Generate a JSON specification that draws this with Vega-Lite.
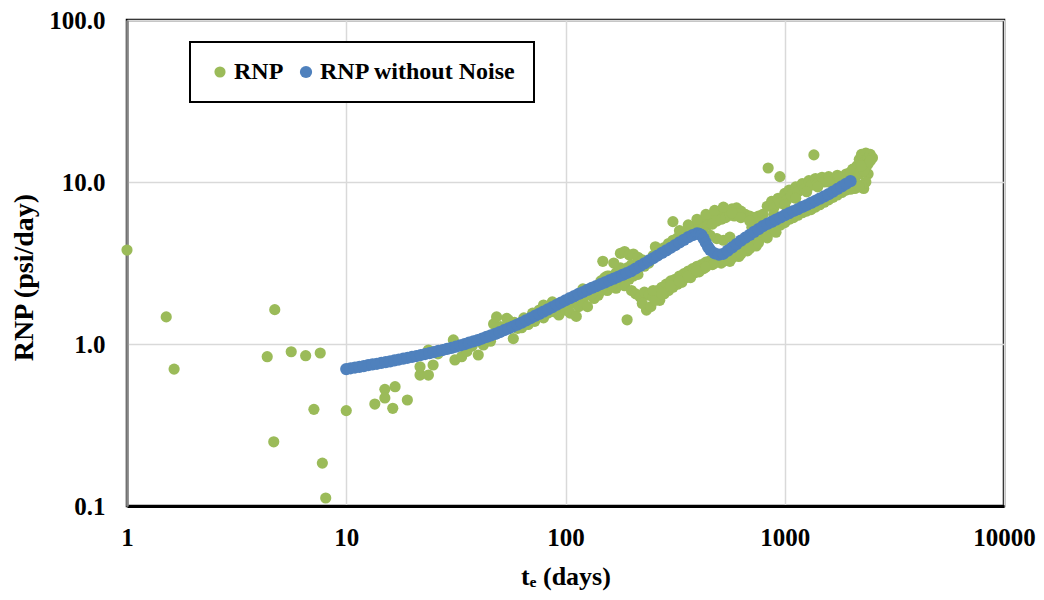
{
  "$schema": "https://vega.github.io/schema/vega-lite/v6.json",
  "width": 877,
  "height": 486,
  "autosize": {"type": "none"},
  "padding": {"left": 127, "top": 20, "right": 40, "bottom": 94},
  "background": "white",
  "config": {
    "view": {"stroke": "#000000", "strokeWidth": 2.5},
    "font": "Liberation Serif"
  },
  "datasets": {
    "rnp": [
      {"t":1.0,"rnp":3.80,"series":"RNP"},{"t":1.51,"rnp":1.47,"series":"RNP"},{"t":1.64,"rnp":0.70,"series":"RNP"},
      {"t":4.36,"rnp":0.835,"series":"RNP"},{"t":4.67,"rnp":0.249,"series":"RNP"},{"t":4.72,"rnp":1.63,"series":"RNP"},
      {"t":5.61,"rnp":0.896,"series":"RNP"},{"t":6.53,"rnp":0.847,"series":"RNP"},{"t":7.12,"rnp":0.395,"series":"RNP"},
      {"t":7.61,"rnp":0.88,"series":"RNP"},{"t":7.78,"rnp":0.184,"series":"RNP"},{"t":8.06,"rnp":0.112,"series":"RNP"},
      {"t":10.0,"rnp":0.388,"series":"RNP"},
      {"t":13.5,"rnp":0.426,"series":"RNP"},{"t":15.0,"rnp":0.525,"series":"RNP"},{"t":16.7,"rnp":0.545,"series":"RNP"},
      {"t":15.0,"rnp":0.464,"series":"RNP"},{"t":16.3,"rnp":0.401,"series":"RNP"},{"t":19.0,"rnp":0.451,"series":"RNP"},
      {"t":21.7,"rnp":0.643,"series":"RNP"},{"t":23.7,"rnp":0.643,"series":"RNP"},{"t":21.7,"rnp":0.724,"series":"RNP"},
      {"t":24.9,"rnp":0.742,"series":"RNP"},{"t":23.7,"rnp":0.918,"series":"RNP"},{"t":26.2,"rnp":0.87,"series":"RNP"},
      {"t":30.8,"rnp":1.06,"series":"RNP"},{"t":31.3,"rnp":0.797,"series":"RNP"},{"t":33.6,"rnp":0.835,"series":"RNP"},
      {"t":35.5,"rnp":0.90,"series":"RNP"},{"t":37.5,"rnp":0.97,"series":"RNP"},{"t":40.0,"rnp":0.855,"series":"RNP"},
      {"t":42.2,"rnp":0.986,"series":"RNP"},{"t":44.5,"rnp":1.12,"series":"RNP"},{"t":45.5,"rnp":1.04,"series":"RNP"},
      {"t":47.0,"rnp":1.33,"series":"RNP"},{"t":48.5,"rnp":1.47,"series":"RNP"},{"t":48.5,"rnp":1.16,"series":"RNP"},
      {"t":50.5,"rnp":1.28,"series":"RNP"},{"t":52.0,"rnp":1.22,"series":"RNP"},{"t":53.9,"rnp":1.44,"series":"RNP"},
      {"t":54.8,"rnp":1.41,"series":"RNP"},{"t":57.8,"rnp":1.08,"series":"RNP"},{"t":58.5,"rnp":1.36,"series":"RNP"},
      {"t":60.5,"rnp":1.25,"series":"RNP"},
      {"t":63.1,"rnp":1.26,"series":"RNP"},{"t":64.6,"rnp":1.45,"series":"RNP"},{"t":67.6,"rnp":1.32,"series":"RNP"},
      {"t":70.8,"rnp":1.55,"series":"RNP"},{"t":72.4,"rnp":1.38,"series":"RNP"},{"t":75.9,"rnp":1.62,"series":"RNP"},
      {"t":79.4,"rnp":1.74,"series":"RNP"},{"t":79.4,"rnp":1.45,"series":"RNP"},{"t":83.2,"rnp":1.55,"series":"RNP"},
      {"t":87.1,"rnp":1.82,"series":"RNP"},{"t":89.1,"rnp":1.58,"series":"RNP"},{"t":93.3,"rnp":1.51,"series":"RNP"},
      {"t":95.5,"rnp":1.70,"series":"RNP"},{"t":100,"rnp":1.62,"series":"RNP"},{"t":105,"rnp":1.55,"series":"RNP"},
      {"t":107,"rnp":1.78,"series":"RNP"},{"t":112,"rnp":1.48,"series":"RNP"},{"t":115,"rnp":1.70,"series":"RNP"},
      {"t":120,"rnp":1.82,"series":"RNP"},{"t":126,"rnp":1.70,"series":"RNP"},{"t":129,"rnp":2.00,"series":"RNP"},
      {"t":135,"rnp":1.91,"series":"RNP"},{"t":138,"rnp":2.14,"series":"RNP"},{"t":141,"rnp":2.00,"series":"RNP"},
      {"t":148,"rnp":3.24,"series":"RNP"},{"t":145,"rnp":2.45,"series":"RNP"},{"t":148,"rnp":2.29,"series":"RNP"},
      {"t":151,"rnp":2.57,"series":"RNP"},{"t":155,"rnp":2.14,"series":"RNP"},{"t":158,"rnp":2.63,"series":"RNP"},
      {"t":162,"rnp":2.51,"series":"RNP"},{"t":170,"rnp":2.21,"series":"RNP"},{"t":170,"rnp":2.75,"series":"RNP"},
      {"t":174,"rnp":2.75,"series":"RNP"},{"t":178,"rnp":2.40,"series":"RNP"},{"t":182,"rnp":2.82,"series":"RNP"},
      {"t":186,"rnp":2.29,"series":"RNP"},{"t":191,"rnp":1.41,"series":"RNP"},{"t":191,"rnp":2.95,"series":"RNP"},
      {"t":195,"rnp":2.51,"series":"RNP"},{"t":204,"rnp":2.63,"series":"RNP"},{"t":209,"rnp":3.09,"series":"RNP"},
      {"t":219,"rnp":3.24,"series":"RNP"},
      {"t":112,"rnp":2.00,"series":"RNP"},{"t":120,"rnp":2.19,"series":"RNP"},{"t":132,"rnp":2.04,"series":"RNP"},
      {"t":145,"rnp":2.14,"series":"RNP"},{"t":155,"rnp":2.63,"series":"RNP"},{"t":162,"rnp":2.29,"series":"RNP"},
      {"t":178,"rnp":2.95,"series":"RNP"},{"t":186,"rnp":2.63,"series":"RNP"},{"t":200,"rnp":3.09,"series":"RNP"},
      {"t":214,"rnp":2.69,"series":"RNP"},
      {"t":166,"rnp":3.16,"series":"RNP"},{"t":178,"rnp":3.63,"series":"RNP"},{"t":186,"rnp":3.72,"series":"RNP"},
      {"t":195,"rnp":3.55,"series":"RNP"},{"t":204,"rnp":3.59,"series":"RNP"},{"t":214,"rnp":3.43,"series":"RNP"},
      {"t":224,"rnp":3.31,"series":"RNP"},{"t":229,"rnp":3.02,"series":"RNP"},{"t":240,"rnp":3.16,"series":"RNP"},
      {"t":251,"rnp":3.51,"series":"RNP"},{"t":257,"rnp":3.98,"series":"RNP"},{"t":269,"rnp":3.80,"series":"RNP"},
      {"t":282,"rnp":3.94,"series":"RNP"},{"t":295,"rnp":4.17,"series":"RNP"},{"t":309,"rnp":5.69,"series":"RNP"},
      {"t":309,"rnp":4.37,"series":"RNP"},{"t":324,"rnp":4.52,"series":"RNP"},{"t":339,"rnp":4.73,"series":"RNP"},
      {"t":355,"rnp":4.90,"series":"RNP"},{"t":372,"rnp":5.13,"series":"RNP"},{"t":389,"rnp":5.31,"series":"RNP"},
      {"t":398,"rnp":5.56,"series":"RNP"},{"t":417,"rnp":5.69,"series":"RNP"},{"t":437,"rnp":5.89,"series":"RNP"},
      {"t":457,"rnp":6.03,"series":"RNP"},{"t":479,"rnp":6.17,"series":"RNP"},{"t":501,"rnp":6.31,"series":"RNP"},
      {"t":525,"rnp":6.53,"series":"RNP"},{"t":550,"rnp":6.61,"series":"RNP"},{"t":575,"rnp":6.84,"series":"RNP"},
      {"t":603,"rnp":6.92,"series":"RNP"},{"t":631,"rnp":6.61,"series":"RNP"},{"t":661,"rnp":6.31,"series":"RNP"},
      {"t":427,"rnp":5.25,"series":"RNP"},{"t":447,"rnp":5.43,"series":"RNP"},{"t":468,"rnp":5.50,"series":"RNP"},
      {"t":490,"rnp":5.75,"series":"RNP"},{"t":513,"rnp":5.89,"series":"RNP"},{"t":537,"rnp":6.03,"series":"RNP"},
      {"t":562,"rnp":6.24,"series":"RNP"},{"t":589,"rnp":6.17,"series":"RNP"},{"t":617,"rnp":6.31,"series":"RNP"},
      {"t":692,"rnp":6.17,"series":"RNP"},{"t":724,"rnp":6.03,"series":"RNP"},{"t":759,"rnp":6.17,"series":"RNP"},
      {"t":794,"rnp":6.31,"series":"RNP"},{"t":490,"rnp":4.47,"series":"RNP"},{"t":525,"rnp":4.37,"series":"RNP"},
      {"t":562,"rnp":4.57,"series":"RNP"},{"t":457,"rnp":4.68,"series":"RNP"},{"t":708,"rnp":5.25,"series":"RNP"},
      {"t":794,"rnp":5.75,"series":"RNP"},
      {"t":331,"rnp":5.01,"series":"RNP"},{"t":363,"rnp":5.43,"series":"RNP"},{"t":398,"rnp":5.89,"series":"RNP"},
      {"t":437,"rnp":6.31,"series":"RNP"},{"t":479,"rnp":6.68,"series":"RNP"},{"t":525,"rnp":7.00,"series":"RNP"},
      {"t":575,"rnp":6.46,"series":"RNP"},{"t":631,"rnp":6.03,"series":"RNP"},{"t":692,"rnp":5.75,"series":"RNP"},
      {"t":759,"rnp":5.62,"series":"RNP"},
      {"t":200,"rnp":2.14,"series":"RNP"},{"t":209,"rnp":2.04,"series":"RNP"},{"t":219,"rnp":1.95,"series":"RNP"},
      {"t":229,"rnp":2.09,"series":"RNP"},{"t":234,"rnp":1.62,"series":"RNP"},{"t":240,"rnp":2.00,"series":"RNP"},
      {"t":251,"rnp":1.95,"series":"RNP"},{"t":263,"rnp":2.14,"series":"RNP"},{"t":269,"rnp":1.86,"series":"RNP"},
      {"t":275,"rnp":2.24,"series":"RNP"},{"t":288,"rnp":2.34,"series":"RNP"},{"t":302,"rnp":2.45,"series":"RNP"},
      {"t":316,"rnp":2.51,"series":"RNP"},{"t":324,"rnp":2.34,"series":"RNP"},{"t":331,"rnp":2.63,"series":"RNP"},
      {"t":347,"rnp":2.72,"series":"RNP"},{"t":355,"rnp":2.57,"series":"RNP"},{"t":363,"rnp":2.82,"series":"RNP"},
      {"t":380,"rnp":2.92,"series":"RNP"},{"t":389,"rnp":2.75,"series":"RNP"},{"t":398,"rnp":3.02,"series":"RNP"},
      {"t":417,"rnp":3.09,"series":"RNP"},{"t":427,"rnp":2.92,"series":"RNP"},{"t":437,"rnp":3.20,"series":"RNP"},
      {"t":457,"rnp":3.27,"series":"RNP"},{"t":468,"rnp":3.09,"series":"RNP"},{"t":479,"rnp":3.39,"series":"RNP"},
      {"t":501,"rnp":3.31,"series":"RNP"},{"t":513,"rnp":3.16,"series":"RNP"},{"t":525,"rnp":3.43,"series":"RNP"},
      {"t":550,"rnp":3.39,"series":"RNP"},{"t":562,"rnp":3.24,"series":"RNP"},{"t":575,"rnp":3.59,"series":"RNP"},
      {"t":603,"rnp":3.63,"series":"RNP"},{"t":617,"rnp":3.47,"series":"RNP"},{"t":631,"rnp":3.80,"series":"RNP"},
      {"t":661,"rnp":3.98,"series":"RNP"},{"t":676,"rnp":3.76,"series":"RNP"},{"t":692,"rnp":4.12,"series":"RNP"},
      {"t":724,"rnp":4.27,"series":"RNP"},{"t":741,"rnp":4.03,"series":"RNP"},{"t":759,"rnp":4.47,"series":"RNP"},
      {"t":794,"rnp":4.62,"series":"RNP"},{"t":832,"rnp":4.79,"series":"RNP"},{"t":871,"rnp":5.01,"series":"RNP"},
      {"t":912,"rnp":5.19,"series":"RNP"},{"t":955,"rnp":5.43,"series":"RNP"},{"t":224,"rnp":1.78,"series":"RNP"},
      {"t":245,"rnp":1.70,"series":"RNP"},{"t":257,"rnp":1.86,"series":"RNP"},{"t":282,"rnp":2.04,"series":"RNP"},
      {"t":295,"rnp":2.14,"series":"RNP"},{"t":309,"rnp":2.24,"series":"RNP"},{"t":339,"rnp":2.40,"series":"RNP"},
      {"t":372,"rnp":2.57,"series":"RNP"},{"t":407,"rnp":2.79,"series":"RNP"},
      {"t":251,"rnp":2.14,"series":"RNP"},{"t":275,"rnp":2.04,"series":"RNP"},{"t":302,"rnp":2.29,"series":"RNP"},
      {"t":331,"rnp":2.45,"series":"RNP"},{"t":363,"rnp":2.63,"series":"RNP"},{"t":398,"rnp":2.82,"series":"RNP"},
      {"t":437,"rnp":2.99,"series":"RNP"},{"t":479,"rnp":3.16,"series":"RNP"},{"t":525,"rnp":3.24,"series":"RNP"},
      {"t":575,"rnp":3.39,"series":"RNP"},{"t":631,"rnp":3.59,"series":"RNP"},{"t":692,"rnp":3.89,"series":"RNP"},
      {"t":759,"rnp":4.22,"series":"RNP"},{"t":832,"rnp":4.52,"series":"RNP"},{"t":912,"rnp":4.90,"series":"RNP"},
      {"t":832,"rnp":7.08,"series":"RNP"},{"t":871,"rnp":7.59,"series":"RNP"},{"t":891,"rnp":6.92,"series":"RNP"},
      {"t":933,"rnp":7.94,"series":"RNP"},{"t":955,"rnp":7.41,"series":"RNP"},{"t":1000,"rnp":8.51,"series":"RNP"},
      {"t":1023,"rnp":7.76,"series":"RNP"},{"t":1047,"rnp":8.91,"series":"RNP"},{"t":1072,"rnp":8.32,"series":"RNP"},
      {"t":1122,"rnp":9.33,"series":"RNP"},{"t":1148,"rnp":8.71,"series":"RNP"},{"t":1202,"rnp":9.77,"series":"RNP"},
      {"t":1230,"rnp":9.12,"series":"RNP"},{"t":1288,"rnp":10.2,"series":"RNP"},{"t":1318,"rnp":9.55,"series":"RNP"},
      {"t":1380,"rnp":10.5,"series":"RNP"},{"t":1413,"rnp":9.77,"series":"RNP"},{"t":1479,"rnp":10.7,"series":"RNP"},
      {"t":1514,"rnp":10.0,"series":"RNP"},{"t":1585,"rnp":10.8,"series":"RNP"},{"t":1660,"rnp":10.2,"series":"RNP"},
      {"t":1738,"rnp":11.0,"series":"RNP"},{"t":1820,"rnp":10.5,"series":"RNP"},{"t":1905,"rnp":11.2,"series":"RNP"},
      {"t":1995,"rnp":11.0,"series":"RNP"},{"t":2042,"rnp":12.0,"series":"RNP"},{"t":2089,"rnp":11.5,"series":"RNP"},
      {"t":2138,"rnp":12.6,"series":"RNP"},{"t":2188,"rnp":13.8,"series":"RNP"},{"t":2239,"rnp":14.8,"series":"RNP"},
      {"t":2291,"rnp":13.2,"series":"RNP"},{"t":2344,"rnp":12.3,"series":"RNP"},{"t":2344,"rnp":15.1,"series":"RNP"},
      {"t":2399,"rnp":14.1,"series":"RNP"},{"t":2455,"rnp":14.8,"series":"RNP"},{"t":2512,"rnp":14.1,"series":"RNP"},
      {"t":2399,"rnp":11.2,"series":"RNP"},{"t":2344,"rnp":10.0,"series":"RNP"},{"t":2291,"rnp":9.12,"series":"RNP"},
      {"t":2239,"rnp":9.55,"series":"RNP"},{"t":2399,"rnp":12.9,"series":"RNP"},
      {"t":891,"rnp":6.31,"series":"RNP"},{"t":1000,"rnp":7.24,"series":"RNP"},{"t":1122,"rnp":7.94,"series":"RNP"},
      {"t":1259,"rnp":8.71,"series":"RNP"},{"t":1413,"rnp":9.33,"series":"RNP"},{"t":1585,"rnp":10.0,"series":"RNP"},
      {"t":1778,"rnp":10.7,"series":"RNP"},{"t":1995,"rnp":11.5,"series":"RNP"},{"t":2089,"rnp":10.5,"series":"RNP"},
      {"t":2188,"rnp":11.2,"series":"RNP"},{"t":2291,"rnp":11.7,"series":"RNP"},{"t":2239,"rnp":12.6,"series":"RNP"},
      {"t":2455,"rnp":13.5,"series":"RNP"},
      {"t":1000,"rnp":5.62,"series":"RNP"},{"t":1047,"rnp":5.89,"series":"RNP"},{"t":1096,"rnp":6.03,"series":"RNP"},
      {"t":1148,"rnp":6.24,"series":"RNP"},{"t":1202,"rnp":6.46,"series":"RNP"},{"t":1259,"rnp":6.61,"series":"RNP"},
      {"t":1318,"rnp":6.76,"series":"RNP"},{"t":1380,"rnp":7.00,"series":"RNP"},{"t":1445,"rnp":7.24,"series":"RNP"},
      {"t":1514,"rnp":7.50,"series":"RNP"},{"t":1585,"rnp":7.76,"series":"RNP"},{"t":1660,"rnp":8.04,"series":"RNP"},
      {"t":1738,"rnp":8.32,"series":"RNP"},{"t":1820,"rnp":8.61,"series":"RNP"},{"t":1905,"rnp":8.91,"series":"RNP"},
      {"t":1995,"rnp":9.02,"series":"RNP"},{"t":2089,"rnp":9.12,"series":"RNP"},{"t":2188,"rnp":9.33,"series":"RNP"},
      {"t":840,"rnp":12.2,"series":"RNP"},{"t":950,"rnp":10.8,"series":"RNP"},{"t":1358,"rnp":14.7,"series":"RNP"},
      {"t":10,"rnp":0.700,"series":"RNP without Noise"},{"t":10.47,"rnp":0.708,"series":"RNP without Noise"},
      {"t":10.96,"rnp":0.716,"series":"RNP without Noise"},{"t":11.48,"rnp":0.723,"series":"RNP without Noise"},
      {"t":12.02,"rnp":0.731,"series":"RNP without Noise"},{"t":12.59,"rnp":0.740,"series":"RNP without Noise"},
      {"t":13.18,"rnp":0.748,"series":"RNP without Noise"},{"t":13.80,"rnp":0.755,"series":"RNP without Noise"},
      {"t":14.45,"rnp":0.764,"series":"RNP without Noise"},{"t":15.14,"rnp":0.773,"series":"RNP without Noise"},
      {"t":15.85,"rnp":0.782,"series":"RNP without Noise"},{"t":16.60,"rnp":0.791,"series":"RNP without Noise"},
      {"t":17.38,"rnp":0.802,"series":"RNP without Noise"},{"t":18.20,"rnp":0.811,"series":"RNP without Noise"},
      {"t":19.05,"rnp":0.822,"series":"RNP without Noise"},{"t":19.95,"rnp":0.832,"series":"RNP without Noise"},
      {"t":20.89,"rnp":0.843,"series":"RNP without Noise"},{"t":21.88,"rnp":0.855,"series":"RNP without Noise"},
      {"t":22.91,"rnp":0.867,"series":"RNP without Noise"},{"t":23.99,"rnp":0.879,"series":"RNP without Noise"},
      {"t":25.12,"rnp":0.891,"series":"RNP without Noise"},{"t":26.30,"rnp":0.906,"series":"RNP without Noise"},
      {"t":27.54,"rnp":0.918,"series":"RNP without Noise"},{"t":28.84,"rnp":0.933,"series":"RNP without Noise"},
      {"t":30.20,"rnp":0.946,"series":"RNP without Noise"},{"t":31.62,"rnp":0.962,"series":"RNP without Noise"},
      {"t":33.11,"rnp":0.979,"series":"RNP without Noise"},{"t":34.67,"rnp":0.998,"series":"RNP without Noise"},
      {"t":36.31,"rnp":1.019,"series":"RNP without Noise"},{"t":38.02,"rnp":1.038,"series":"RNP without Noise"},
      {"t":39.81,"rnp":1.057,"series":"RNP without Noise"},{"t":41.69,"rnp":1.081,"series":"RNP without Noise"},
      {"t":43.65,"rnp":1.107,"series":"RNP without Noise"},{"t":45.71,"rnp":1.130,"series":"RNP without Noise"},
      {"t":47.86,"rnp":1.156,"series":"RNP without Noise"},{"t":50.12,"rnp":1.183,"series":"RNP without Noise"},
      {"t":52.48,"rnp":1.216,"series":"RNP without Noise"},{"t":54.95,"rnp":1.250,"series":"RNP without Noise"},
      {"t":57.54,"rnp":1.282,"series":"RNP without Noise"},{"t":60.26,"rnp":1.318,"series":"RNP without Noise"},
      {"t":63.10,"rnp":1.355,"series":"RNP without Noise"},{"t":66.07,"rnp":1.400,"series":"RNP without Noise"},
      {"t":69.18,"rnp":1.442,"series":"RNP without Noise"},{"t":72.44,"rnp":1.489,"series":"RNP without Noise"},
      {"t":75.86,"rnp":1.535,"series":"RNP without Noise"},{"t":79.43,"rnp":1.585,"series":"RNP without Noise"},
      {"t":83.18,"rnp":1.637,"series":"RNP without Noise"},{"t":87.10,"rnp":1.690,"series":"RNP without Noise"},
      {"t":91.20,"rnp":1.746,"series":"RNP without Noise"},{"t":95.50,"rnp":1.803,"series":"RNP without Noise"},
      {"t":100,"rnp":1.862,"series":"RNP without Noise"},{"t":104.7,"rnp":1.919,"series":"RNP without Noise"},
      {"t":109.6,"rnp":1.977,"series":"RNP without Noise"},{"t":114.8,"rnp":2.037,"series":"RNP without Noise"},
      {"t":120.2,"rnp":2.094,"series":"RNP without Noise"},{"t":125.9,"rnp":2.158,"series":"RNP without Noise"},
      {"t":131.8,"rnp":2.218,"series":"RNP without Noise"},{"t":138.0,"rnp":2.275,"series":"RNP without Noise"},
      {"t":144.5,"rnp":2.339,"series":"RNP without Noise"},{"t":151.4,"rnp":2.399,"series":"RNP without Noise"},
      {"t":158.5,"rnp":2.466,"series":"RNP without Noise"},{"t":166.0,"rnp":2.535,"series":"RNP without Noise"},
      {"t":173.8,"rnp":2.600,"series":"RNP without Noise"},{"t":182.0,"rnp":2.673,"series":"RNP without Noise"},
      {"t":190.5,"rnp":2.742,"series":"RNP without Noise"},{"t":199.5,"rnp":2.818,"series":"RNP without Noise"},
      {"t":208.9,"rnp":2.924,"series":"RNP without Noise"},{"t":218.8,"rnp":3.034,"series":"RNP without Noise"},
      {"t":229.1,"rnp":3.148,"series":"RNP without Noise"},{"t":239.9,"rnp":3.266,"series":"RNP without Noise"},
      {"t":251.2,"rnp":3.388,"series":"RNP without Noise"},{"t":263.0,"rnp":3.516,"series":"RNP without Noise"},
      {"t":275.4,"rnp":3.648,"series":"RNP without Noise"},{"t":288.4,"rnp":3.784,"series":"RNP without Noise"},
      {"t":302.0,"rnp":3.926,"series":"RNP without Noise"},{"t":316.2,"rnp":4.074,"series":"RNP without Noise"},
      {"t":331.1,"rnp":4.236,"series":"RNP without Noise"},{"t":346.7,"rnp":4.395,"series":"RNP without Noise"},
      {"t":363.1,"rnp":4.571,"series":"RNP without Noise"},{"t":380.2,"rnp":4.699,"series":"RNP without Noise"},
      {"t":398.1,"rnp":4.819,"series":"RNP without Noise"},{"t":407.4,"rnp":4.786,"series":"RNP without Noise"},
      {"t":416.9,"rnp":4.699,"series":"RNP without Noise"},{"t":426.6,"rnp":4.467,"series":"RNP without Noise"},
      {"t":436.5,"rnp":4.217,"series":"RNP without Noise"},{"t":446.7,"rnp":3.981,"series":"RNP without Noise"},
      {"t":457.1,"rnp":3.802,"series":"RNP without Noise"},{"t":478.6,"rnp":3.631,"series":"RNP without Noise"},
      {"t":501.2,"rnp":3.565,"series":"RNP without Noise"},{"t":524.8,"rnp":3.606,"series":"RNP without Noise"},
      {"t":549.5,"rnp":3.767,"series":"RNP without Noise"},{"t":575.4,"rnp":3.945,"series":"RNP without Noise"},
      {"t":602.6,"rnp":4.140,"series":"RNP without Noise"},{"t":631.0,"rnp":4.345,"series":"RNP without Noise"},
      {"t":660.7,"rnp":4.529,"series":"RNP without Noise"},{"t":691.8,"rnp":4.721,"series":"RNP without Noise"},
      {"t":724.4,"rnp":4.920,"series":"RNP without Noise"},{"t":758.6,"rnp":5.117,"series":"RNP without Noise"},
      {"t":794.3,"rnp":5.333,"series":"RNP without Noise"},{"t":831.8,"rnp":5.508,"series":"RNP without Noise"},
      {"t":871.0,"rnp":5.675,"series":"RNP without Noise"},{"t":912.0,"rnp":5.861,"series":"RNP without Noise"},
      {"t":955.0,"rnp":6.039,"series":"RNP without Noise"},{"t":1000,"rnp":6.237,"series":"RNP without Noise"},
      {"t":1047,"rnp":6.427,"series":"RNP without Noise"},{"t":1096,"rnp":6.622,"series":"RNP without Noise"},
      {"t":1148,"rnp":6.808,"series":"RNP without Noise"},{"t":1202,"rnp":7.015,"series":"RNP without Noise"},
      {"t":1259,"rnp":7.211,"series":"RNP without Noise"},{"t":1318,"rnp":7.430,"series":"RNP without Noise"},
      {"t":1380,"rnp":7.656,"series":"RNP without Noise"},{"t":1445,"rnp":7.889,"series":"RNP without Noise"},
      {"t":1514,"rnp":8.147,"series":"RNP without Noise"},{"t":1585,"rnp":8.414,"series":"RNP without Noise"},
      {"t":1660,"rnp":8.730,"series":"RNP without Noise"},{"t":1738,"rnp":9.057,"series":"RNP without Noise"},
      {"t":1820,"rnp":9.397,"series":"RNP without Noise"},{"t":1905,"rnp":9.750,"series":"RNP without Noise"},
      {"t":1995,"rnp":10.12,"series":"RNP without Noise"}
    ]
  },
  "data": {"name": "rnp"},
  "mark": {"type": "circle", "opacity": 1},
  "encoding": {
    "x": {
      "field": "t",
      "type": "quantitative",
      "scale": {"type": "log", "domain": [1, 10000], "nice": false},
      "axis": {
        "values": [1, 10, 100, 1000, 10000],
        "format": "d",
        "title": "tₑ (days)",
        "grid": true,
        "gridColor": "#d9d9d9",
        "gridWidth": 1.5,
        "ticks": false,
        "domainColor": "#000000",
        "domainWidth": 3,
        "labelFont": "Liberation Serif",
        "labelFontSize": 25,
        "labelFontWeight": "bold",
        "labelColor": "#000000",
        "labelPadding": 19,
        "labelBaseline": "top",
        "labelFlush": false,
        "labelOverlap": false,
        "titleFont": "Liberation Serif",
        "titleFontSize": 26,
        "titleFontWeight": "bold",
        "titleColor": "#000000",
        "titleX": 438.5,
        "titleY": 78,
        "titleBaseline": "alphabetic"
      }
    },
    "y": {
      "field": "rnp",
      "type": "quantitative",
      "scale": {"type": "log", "domain": [0.1, 100], "nice": false},
      "axis": {
        "values": [0.1, 1, 10, 100],
        "format": ".1f",
        "title": "RNP (psi/day)",
        "grid": true,
        "gridColor": "#d9d9d9",
        "gridWidth": 1.5,
        "ticks": false,
        "domainColor": "#868686",
        "domainWidth": 2.5,
        "labelFont": "Liberation Serif",
        "labelFontSize": 25,
        "labelFontWeight": "bold",
        "labelColor": "#000000",
        "labelPadding": 22,
        "labelOverlap": false,
        "labelFlush": false,
        "titleFont": "Liberation Serif",
        "titleFontSize": 28,
        "titleFontWeight": "bold",
        "titleColor": "#000000",
        "titleX": -103,
        "titleY": 257,
        "titleAngle": -90,
        "titleAlign": "center",
        "titleBaseline": "middle"
      }
    },
    "size": {
      "field": "series",
      "type": "nominal",
      "scale": {"domain": ["RNP", "RNP without Noise"], "range": [125, 150]},
      "legend": null
    },
    "color": {
      "field": "series",
      "type": "nominal",
      "scale": {"domain": ["RNP", "RNP without Noise"], "range": ["#9BBB59", "#4F81BD"]},
      "legend": {
        "title": null,
        "orient": "none",
        "legendX": 63,
        "legendY": 22,
        "direction": "horizontal",
        "symbolType": "circle",
        "symbolSize": 120,
        "symbolOpacity": 1,
        "labelFont": "Liberation Serif",
        "labelFontSize": 24,
        "labelFontWeight": "bold",
        "labelColor": "#000000",
        "labelLimit": 400,
        "labelOffset": 2,
        "columnPadding": 10,
        "strokeColor": "#000000",
        "fillColor": "#ffffff",
        "padding": 18,
        "encode": {"legend": {"update": {"strokeWidth": {"value": 2}}}}
      }
    }
  }
}
